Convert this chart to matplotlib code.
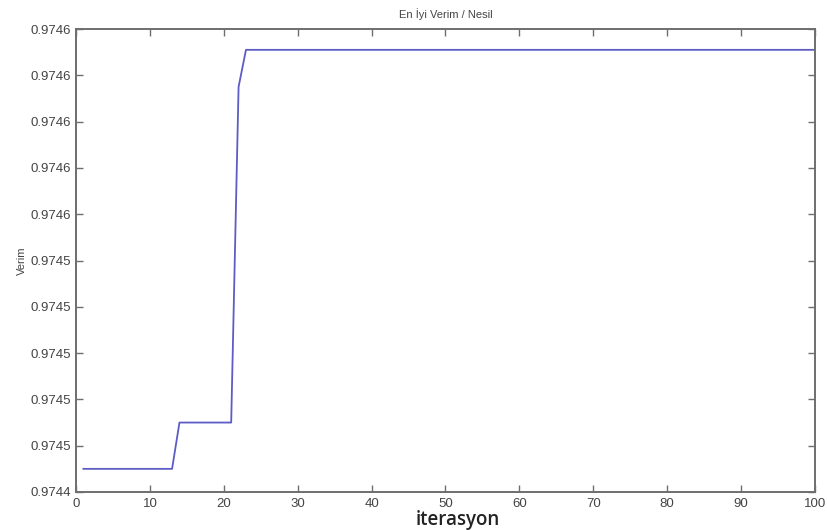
import numpy as np
import matplotlib.pyplot as plt
import matplotlib.ticker as ticker

plt.rcParams['font.family'] = ['Liberation Sans', 'DejaVu Sans']

# best efficiency per generation
step_x = [1, 13, 14, 21, 22, 23, 100]
step_y = [0.974450, 0.974450, 0.974470, 0.974470, 0.974615, 0.974631, 0.974631]

y_ticks = np.arange(0.97444, 0.974645, 0.00002)
x_ticks = [0, 10, 20, 30, 40, 50, 60, 70, 80, 90, 100]

AX_COLOR = "#6e6e6e"
LINE_COLOR = "#5c5cc4"

fig = plt.figure(figsize=(8.28, 5.30), dpi=100)
ax = fig.add_axes([76/828, 1-492/530, 739/828, 463/530])

ax.plot(step_x, step_y, "-", color=LINE_COLOR, linewidth=1.3)

ax.set_xlim(0, 100)
ax.set_ylim(0.97444, 0.97464)
ax.set_xticks(x_ticks)
ax.set_yticks(y_ticks)
ax.yaxis.set_major_formatter(ticker.FormatStrFormatter('%.4f'))

ax.tick_params(direction='in', length=5, width=1, color=AX_COLOR,
               labelcolor="#444444", labelsize=9.5,
               top=True, right=True)
ax.tick_params(axis='x', pad=4)
for s in ax.spines.values():
    s.set_color(AX_COLOR)
    s.set_linewidth(1.4)

ax.set_title("En İyi Verim / Nesil", fontsize=8, color="#444444", pad=8)
ax.set_ylabel("Verim", fontsize=8, color="#444444", labelpad=3)
ax.set_xlabel("iterasyon", fontsize=13.5, color="#222222",
              family=['Open Sans', 'DejaVu Sans'], weight='semibold')
ax.xaxis.set_label_coords(0.517, -0.039)

fig.savefig("out.png", dpi=100)
